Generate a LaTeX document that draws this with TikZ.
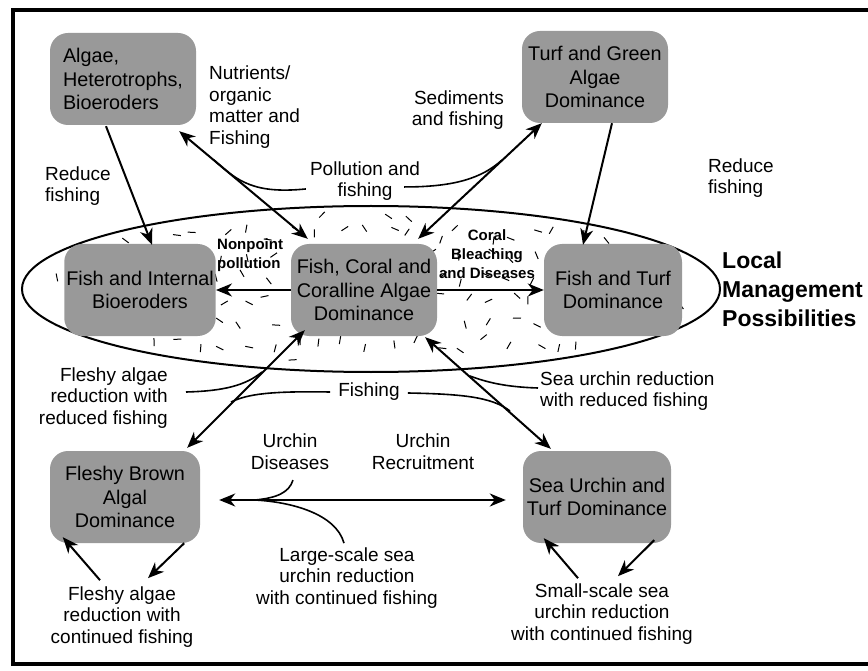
\documentclass[tikz,border=0pt]{standalone}
\usepackage{fontspec}
\setmainfont{Liberation Sans}
\usetikzlibrary{arrows.meta,calc}
\definecolor{boxgray}{gray}{0.6}
\begin{document}
\begin{tikzpicture}[x=1pt,y=-1pt,
  statebox/.style={draw=none, fill=boxgray, rounded corners=18pt, minimum width=146pt, minimum height=92pt, align=center, inner sep=2pt, font=\fontsize{19.8}{23.5}\selectfont},
  lab/.style={font=\fontsize{19}{21.8}\selectfont, inner sep=0pt},
  blab/.style={font=\bfseries\fontsize{15}{19}\selectfont, inner sep=0pt},
  tip/.tip={Stealth[length=16pt,width=13pt,inset=5pt]},
  arr/.style={line width=2pt, -tip},
  darr/.style={line width=2pt, tip-tip},
  link/.style={line width=1.6pt},
  speck/.style={line width=1pt}
]
\useasboundingbox (0,0) rectangle (868,671);
% frame
\draw[line width=3.5pt] (13,10) rectangle (885,664);
% speckles on a jittered grid inside the ellipse
\pgfmathsetseed{2024}
\foreach \gx in {30,54,...,720}{
  \foreach \gy in {212,234,...,372}{
    \pgfmathsetmacro{\spX}{\gx+16*(rnd-0.5)}
    \pgfmathsetmacro{\spY}{\gy+14*(rnd-0.5)}
    \pgfmathsetmacro{\spA}{180*rnd}
    \pgfmathsetmacro{\spIn}{((\spX-371)/349)^2+((\spY-289)/83)^2<0.84 ? 1 : 0}
    \ifdim\spIn pt>0.5pt
      \draw[speck] ({\spX-4*cos(\spA)},{\spY-4*sin(\spA)}) -- ++(\spA:8);
    \fi
  }
}
% ellipse
\draw[line width=2pt] (371,289) ellipse [x radius=349, y radius=83];
% boxes
\node[statebox, align=left] (A) at (123,79) {Algae,\\Heterotrophs,\\Bioeroders};
\node[statebox] (B) at (595,77) {Turf and Green\\Algae\\Dominance};
\node[statebox] (C) at (140,290) {Fish and Internal\\Bioeroders};
\node[statebox] (D) at (364,290) {Fish, Coral and\\Coralline Algae\\Dominance};
\node[statebox, minimum width=138pt] (E) at (613,290) {Fish and Turf\\Dominance};
\node[statebox, minimum width=150pt] (F) at (125,497) {Fleshy Brown\\Algal\\Dominance};
\node[statebox, minimum width=148pt] (G) at (597,497) {Sea Urchin and\\Turf Dominance};
% labels
\node[lab, anchor=west, align=left] (nut) at (209,107) {Nutrients/\\organic\\matter and\\Fishing};
\node[lab, anchor=west, align=left] (red1) at (45,186) {Reduce\\fishing};
\node[lab, anchor=east, align=right] (sed) at (504,110) {Sediments\\and fishing};
\node[lab, align=center] (poll) at (365,181) {Pollution and\\fishing};
\node[lab, anchor=west, align=left] (red2) at (708,178) {Reduce\\fishing};
\node[blab, anchor=west, align=left] (nonp) at (217,255) {Nonpoint\\pollution};
\node[blab, align=center] (coral) at (487,254) {Coral\\Bleaching\\and Diseases};
\node[lab, anchor=east, align=right] (fl1) at (168,398) {Fleshy algae\\reduction with\\reduced fishing};
\node[lab] (fish) at (369,392) {Fishing};
\node[lab, anchor=west, align=left] (sea) at (540,391) {Sea urchin reduction\\with reduced fishing};
\node[lab, align=center] (ud) at (290,452) {Urchin\\Diseases};
\node[lab, align=center] (ur) at (423,452) {Urchin\\Recruitment};
\node[lab, align=center] (large) at (347,578) {Large-scale sea\\urchin reduction\\with continued fishing};
\node[lab, align=center] (fl2) at (122,617) {Fleshy algae\\reduction with\\continued fishing};
\node[lab, align=center] (small) at (602,614) {Small-scale sea\\urchin reduction\\with continued fishing};
\node[anchor=west, align=left, inner sep=0pt, font=\bfseries\fontsize{23}{29}\selectfont] (local) at (722,289) {Local\\Management\\Possibilities};
% arrows
\draw[arr] ($(A.south)+(-17,1)$) -- ($(C.north)+(12,1)$);
\draw[darr] ($(A.south east)+(-17,6)$) -- ($(D.north west)+(17,-5)$);
\draw[darr] ($(B.south west)+(20,0)$) -- ($(D.north east)+(-19,-5)$);
\draw[arr] (D.west) -- (C.east);
\draw[arr] (D.east) -- (E.west);
\draw[arr] ($(B.south)+(17,0)$) -- ($(E.north)+(-30,1)$);
\draw[darr] ($(D.south west)+(14,-6)$) -- ($(F.north east)+(-13,-3)$);
\draw[darr] ($(D.south east)+(-12,1)$) -- ($(G.north west)+(28,-2)$);
\draw[darr] ($(F.east)+(19,3)$) -- ($(G.west)+(-17,3)$);
\draw[arr] ($(F.south east)+(-16,0)$) -- ($(fl2.north)+(26,-8)$);
\draw[arr] ($(fl2.north)+(-22,-6)$) -- ($(F.south west)+(13,-6)$);
\draw[arr] ($(small.north)+(-24,-5)$) -- ($(G.south west)+(21,-5)$);
\draw[arr] ($(G.south east)+(-17,-3)$) -- ($(small.north)+(16,-7)$);
% attaching curves
\coordinate (j1) at (214,160);
\coordinate (j2) at (502,160);
\coordinate (j3) at (262,372);
\coordinate (j4) at (231,402);
\coordinate (j5) at (470,376);
\coordinate (j6) at (510,411);
\coordinate (j7) at (255,500);
\draw[link] ($(poll.south west)+(-4,-12)$) .. controls (255,194) and (238,182) .. (j1);
\draw[link] ($(poll.south east)+(-16,-14)$) .. controls (455,187) and (482,178) .. (j2);
\draw[link] ($(fl1.east)+(18,-6)$) .. controls (225,391) and (246,385) .. (j3);
\draw[link] ($(fish.west)+(-8,0)$) .. controls (270,391) and (248,394) .. (j4);
\draw[link] ($(sea.west)+(-2,-3)$) .. controls (505,387) and (486,382) .. (j5);
\draw[link] ($(fish.east)+(8,1)$) .. controls (462,394) and (492,397) .. (j6);
\draw[link] ($(ud.south)+(3,10)$) .. controls (289,493) and (276,498) .. (j7);
\draw[link] (j7) .. controls (292,502) and (336,514) .. ($(large.north)+(-3,-4)$);
\end{tikzpicture}
\end{document}
